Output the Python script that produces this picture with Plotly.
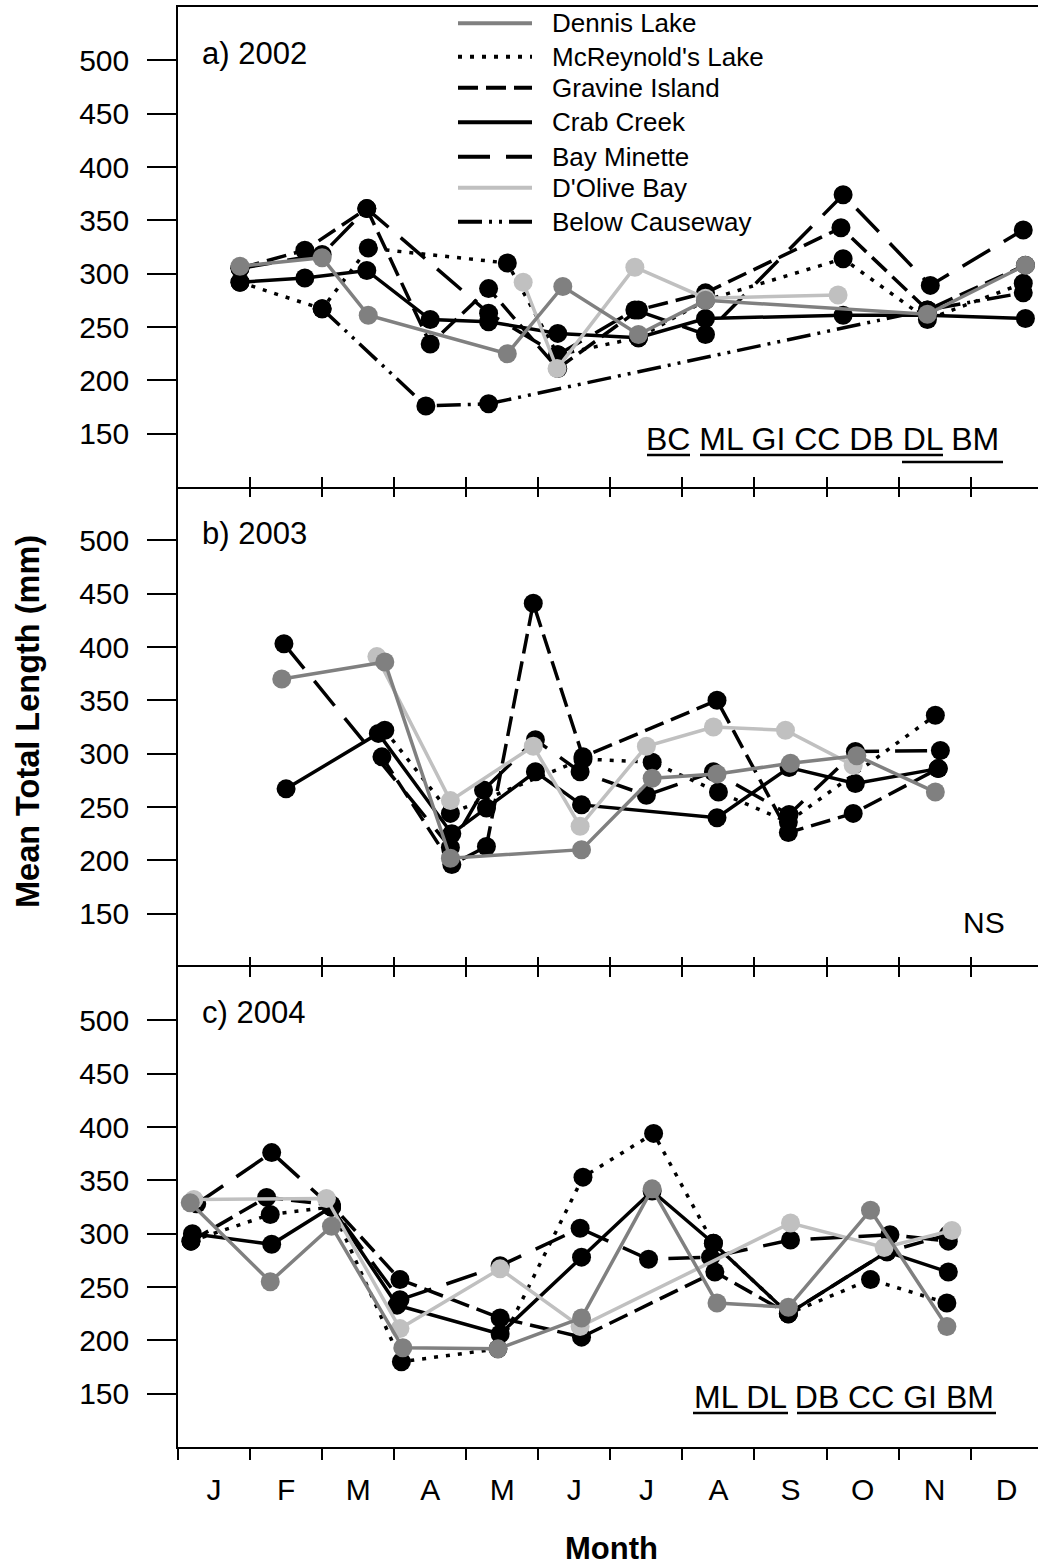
import plotly.graph_objects as go

# ---------------- data (x = month position, 0 = 1 Jan, 12 = 31 Dec) ----------------
MONTHS = ["J", "F", "M", "A", "M", "J", "J", "A", "S", "O", "N", "D"]
YTICKS = [150, 200, 250, 300, 350, 400, 450, 500]
SITES = ["Dennis Lake", "McReynold's Lake", "Gravine Island", "Crab Creek",
         "Bay Minette", "D'Olive Bay", "Below Causeway"]

# 2002
dennis_a_x = [0.86, 2.00, 2.64, 4.57, 5.34, 6.39, 7.32, 10.40, 11.76]
dennis_a_y = [307, 315, 261, 225, 288, 243, 275, 262, 308]
mcr_a_x = [0.86, 2.00, 2.64, 4.57, 5.27, 6.39, 7.32, 9.23, 10.40, 11.73]
mcr_a_y = [292, 267, 324, 310, 224, 240, 275, 314, 257, 291]
gravine_a_x = [0.86, 1.76, 2.62, 3.50, 4.31, 5.27, 6.39, 7.32, 9.20, 10.40, 11.76]
gravine_a_y = [305, 322, 361, 234, 286, 211, 266, 282, 343, 266, 308]
cc_a_x = [0.86, 1.76, 2.62, 3.50, 4.31, 5.27, 6.39, 7.32, 9.23, 10.40, 11.76]
cc_a_y = [292, 296, 303, 257, 255, 244, 240, 258, 261, 261, 258]
bm_a_x = [0.86, 2.00, 2.62, 4.31, 5.27, 6.34, 7.32, 9.23, 10.44, 11.73]
bm_a_y = [305, 318, 361, 263, 224, 266, 243, 374, 289, 341]
dolive_a_x = [4.79, 5.26, 6.34, 7.32, 9.16]
dolive_a_y = [292, 211, 306, 277, 280]
bc_a_x = [2.00, 3.44, 4.31, 10.40, 11.73]
bc_a_y = [267, 176, 178, 266, 282]

# 2003
dennis_b_x = [1.44, 2.87, 3.78, 5.60, 6.58, 7.48, 8.50, 9.42, 10.51]
dennis_b_y = [370, 386, 202, 210, 277, 281, 291, 298, 264]
mcr_b_x = [2.87, 3.78, 5.62, 6.58, 7.50, 8.47, 10.51]
mcr_b_y = [322, 244, 295, 292, 264, 236, 336]
gravine_b_x = [2.83, 3.80, 4.28, 4.93, 5.62, 7.48, 8.47, 9.37, 10.55]
gravine_b_y = [297, 196, 213, 441, 297, 350, 226, 244, 286]
cc_b_x = [1.50, 2.78, 3.80, 4.28, 4.96, 5.60, 7.48, 8.48, 9.40, 10.55]
cc_b_y = [267, 319, 225, 249, 283, 252, 240, 287, 272, 286]
bm_b_x = [1.47, 3.78, 4.24, 4.96, 5.58, 6.50, 7.43, 8.48, 9.40, 10.58]
bm_b_y = [403, 212, 266, 313, 283, 261, 283, 243, 302, 303]
dolive_b_x = [2.76, 3.78, 4.93, 5.58, 6.50, 7.43, 8.43, 9.37]
dolive_b_y = [391, 256, 307, 232, 307, 325, 322, 289]

# 2004
dennis_c_x = [0.17, 1.28, 2.13, 3.12, 4.44, 5.60, 6.58, 7.48, 8.47, 9.61, 10.67]
dennis_c_y = [329, 255, 307, 193, 192, 221, 342, 235, 231, 322, 213]
mcr_c_x = [0.18, 1.28, 2.13, 3.10, 4.44, 5.62, 6.60, 7.43, 8.47, 9.61, 10.67]
mcr_c_y = [293, 318, 325, 180, 192, 353, 394, 291, 225, 257, 235]
gravine_c_x = [0.18, 1.23, 2.13, 3.08, 4.47, 5.60, 7.45, 8.47, 9.84, 10.69]
gravine_c_y = [293, 334, 327, 257, 221, 203, 264, 225, 283, 299]
cc_c_x = [0.20, 1.30, 2.13, 3.04, 4.47, 5.60, 6.58, 7.43, 8.47, 9.84, 10.69]
cc_c_y = [300, 290, 325, 233, 206, 278, 340, 291, 225, 283, 264]
bm_c_x = [0.26, 1.30, 2.13, 3.08, 4.47, 5.58, 6.53, 7.39, 8.50, 9.88, 10.69]
bm_c_y = [328, 376, 325, 238, 270, 305, 276, 278, 294, 299, 293]
dolive_c_x = [0.22, 2.06, 3.08, 4.47, 5.58, 8.50, 9.80, 10.74]
dolive_c_y = [332, 333, 211, 267, 213, 310, 287, 303]

# ---------------- styles ----------------
STYLE = {
    "Dennis Lake": dict(color="#808080", dash="solid"),
    "McReynold's Lake": dict(color="black", dash="4px,8px"),
    "Gravine Island": dict(color="black", dash="20px,8px"),
    "Crab Creek": dict(color="black", dash="solid"),
    "Bay Minette": dict(color="black", dash="32px,16px"),
    "D'Olive Bay": dict(color="#c0c0c0", dash="solid"),
    "Below Causeway": dict(color="black", dash="24px,7px,3px,7px,3px,7px"),
}
DRAW_ORDER = ["McReynold's Lake", "Gravine Island", "Crab Creek", "Bay Minette",
              "Below Causeway", "D'Olive Bay", "Dennis Lake"]

PANELS = [
    ("x", "y", {
        "Dennis Lake": (dennis_a_x, dennis_a_y),
        "McReynold's Lake": (mcr_a_x, mcr_a_y),
        "Gravine Island": (gravine_a_x, gravine_a_y),
        "Crab Creek": (cc_a_x, cc_a_y),
        "Bay Minette": (bm_a_x, bm_a_y),
        "D'Olive Bay": (dolive_a_x, dolive_a_y),
        "Below Causeway": (bc_a_x, bc_a_y),
    }),
    ("x2", "y2", {
        "Dennis Lake": (dennis_b_x, dennis_b_y),
        "McReynold's Lake": (mcr_b_x, mcr_b_y),
        "Gravine Island": (gravine_b_x, gravine_b_y),
        "Crab Creek": (cc_b_x, cc_b_y),
        "Bay Minette": (bm_b_x, bm_b_y),
        "D'Olive Bay": (dolive_b_x, dolive_b_y),
    }),
    ("x3", "y3", {
        "Dennis Lake": (dennis_c_x, dennis_c_y),
        "McReynold's Lake": (mcr_c_x, mcr_c_y),
        "Gravine Island": (gravine_c_x, gravine_c_y),
        "Crab Creek": (cc_c_x, cc_c_y),
        "Bay Minette": (bm_c_x, bm_c_y),
        "D'Olive Bay": (dolive_c_x, dolive_c_y),
    }),
]

# ---------------- geometry ----------------
W, H = 1038, 1566
ML, MR, MT, MB = 178, 0, 7, 119
PW = W - ML - MR
PH = H - MT - MB
XMAX = PW / 72.06
FONT = "Liberation Sans, Arial, Helvetica, sans-serif"
LW = 3.5
MS = 19


def xp(px):
    return (px - ML) / PW


def yp(py):
    return (H - MB - py) / PH


fig = go.Figure()
for xa, ya, series in PANELS:
    for site in DRAW_ORDER:
        if site not in series:
            continue
        sx, sy = series[site]
        st = STYLE[site]
        fig.add_trace(go.Scatter(
            x=sx, y=sy, xaxis=xa, yaxis=ya, mode="lines+markers", name=site,
            showlegend=False,
            line=dict(color=st["color"], width=LW, dash=st["dash"]),
            marker=dict(color=st["color"], size=MS, line=dict(width=0)),
        ))

# dummy traces so the overlay axes of the bottom panel are drawn
fig.add_trace(go.Scatter(x=[None], y=[None], xaxis="x4", yaxis="y3", showlegend=False, hoverinfo="skip"))
fig.add_trace(go.Scatter(x=[None], y=[None], xaxis="x5", yaxis="y3", showlegend=False, hoverinfo="skip"))

tick_int = list(range(0, 12))
common_x = dict(range=[0, XMAX], autorange=False, showgrid=False, zeroline=False,
                tickvals=tick_int, showticklabels=False, tickcolor="black",
                tickwidth=1.5, linecolor="black", linewidth=1.5, fixedrange=True)
common_y = dict(range=[100, 550], autorange=False, showgrid=False, zeroline=False,
                tickvals=YTICKS, ticks="outside", ticklen=29, tickwidth=1.5,
                tickcolor="black", showline=True, linecolor="black", linewidth=1.5,
                tickfont=dict(family=FONT, size=30, color="black"),
                ticklabelstandoff=12, fixedrange=True)

layout = dict(
    width=W, height=H, margin=dict(l=ML, r=MR, t=MT, b=MB),
    paper_bgcolor="white", plot_bgcolor="white", showlegend=False,
    font=dict(family=FONT, color="black"),
    xaxis=dict(common_x, anchor="y", ticks="inside", ticklen=10, showline=True, mirror=True),
    xaxis2=dict(common_x, anchor="y2", ticks="inside", ticklen=10, showline=False, mirror="ticks"),
    xaxis3=dict(common_x, anchor="y3", ticks="outside", ticklen=11, showline=True, mirror=True),
    xaxis4=dict(common_x, anchor="y3", overlaying="x3", side="top", ticks="inside",
                ticklen=10, showline=False),
    xaxis5=dict(range=[0, XMAX], autorange=False, showgrid=False, zeroline=False,
                anchor="y3", overlaying="x3", side="bottom", showline=False, ticks="",
                tickvals=[i + 0.5 for i in range(12)], ticktext=MONTHS,
                tickfont=dict(family=FONT, size=30, color="black"),
                ticklabelstandoff=22, fixedrange=True),
    yaxis=dict(common_y, domain=[2 / 3, 1], anchor="x"),
    yaxis2=dict(common_y, domain=[1 / 3, 2 / 3], anchor="x2"),
    yaxis3=dict(common_y, domain=[0, 1 / 3], anchor="x3"),
)
fig.update_layout(**layout)

ann = []
shapes = []

# legend (drawn by hand to match the long line samples)
LEG_ROWS = [23.3, 56.7, 87.7, 122.3, 156.7, 187.7, 221.7]
for site, py in zip(SITES, LEG_ROWS):
    st = STYLE[site]
    shapes.append(dict(type="line", xref="paper", yref="paper",
                       x0=xp(458), x1=xp(532), y0=yp(py), y1=yp(py),
                       line=dict(color=st["color"], width=4, dash=st["dash"])))
    ann.append(dict(text=site, xref="paper", yref="paper", x=xp(550), y=yp(py),
                    xanchor="left", yanchor="middle", showarrow=False,
                    font=dict(family=FONT, size=26, color="black")))

# panel labels
for txt, py in [("a) 2002", 53), ("b) 2003", 533), ("c) 2004", 1012)]:
    ann.append(dict(text=txt, xref="paper", yref="paper", x=xp(200), y=yp(py),
                    xanchor="left", yanchor="middle", showarrow=False,
                    font=dict(family=FONT, size=31, color="black")))

# significance groupings
ann.append(dict(text="BC ML GI CC DB DL BM", xref="paper", yref="paper",
                x=xp(1001), y=yp(439), xanchor="right", yanchor="middle",
                showarrow=False, font=dict(family=FONT, size=32, color="black")))
ann.append(dict(text="NS", xref="paper", yref="paper", x=xp(1007), y=yp(922),
                xanchor="right", yanchor="middle", showarrow=False,
                font=dict(family=FONT, size=30, color="black")))
ann.append(dict(text="ML DL DB CC GI BM", xref="paper", yref="paper",
                x=xp(996), y=yp(1397), xanchor="right", yanchor="middle",
                showarrow=False, font=dict(family=FONT, size=32, color="black")))

UNDERLINES = [(647, 690, 455), (700, 943, 455), (902, 1003, 462),
              (693, 788, 1413), (797, 996, 1413)]
for x0, x1, py in UNDERLINES:
    shapes.append(dict(type="line", xref="paper", yref="paper",
                       x0=xp(x0), x1=xp(x1), y0=yp(py), y1=yp(py),
                       line=dict(color="black", width=2.5)))

# axis titles
ann.append(dict(text="<b>Mean Total Length (mm)</b>", xref="paper", yref="paper",
                x=xp(28), y=yp(722), xanchor="center", yanchor="middle",
                textangle=-90, showarrow=False,
                font=dict(family=FONT, size=32.5, color="black")))
ann.append(dict(text="<b>Month</b>", xref="paper", yref="paper",
                x=xp(611), y=yp(1548), xanchor="center", yanchor="middle",
                showarrow=False, font=dict(family=FONT, size=31, color="black")))

fig.update_layout(annotations=ann, shapes=shapes)
fig.write_html("out.html")
